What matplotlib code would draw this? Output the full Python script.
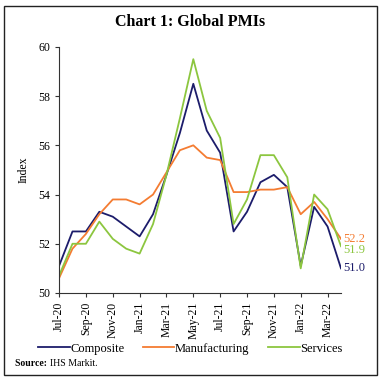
import matplotlib
matplotlib.use("Agg")
import matplotlib.pyplot as plt
from matplotlib.patches import Rectangle

plt.rcParams['font.family'] = ['Liberation Serif', 'DejaVu Serif']

months = ["Jul-20", "Aug-20", "Sep-20", "Oct-20", "Nov-20", "Dec-20",
          "Jan-21", "Feb-21", "Mar-21", "Apr-21", "May-21", "Jun-21",
          "Jul-21", "Aug-21", "Sep-21", "Oct-21", "Nov-21", "Dec-21",
          "Jan-22", "Feb-22", "Mar-22", "Apr-22"]
composite = [51.1, 52.5, 52.5, 53.3, 53.1, 52.7, 52.3, 53.2, 54.8, 56.5, 58.5, 56.6,
             55.7, 52.5, 53.3, 54.5, 54.8, 54.3, 51.1, 53.5, 52.7, 51.0]
manufacturing = [50.6, 51.8, 52.4, 53.2, 53.8, 53.8, 53.6, 54.0, 54.9, 55.8, 56.0, 55.5,
                 55.4, 54.1, 54.1, 54.2, 54.2, 54.3, 53.2, 53.7, 53.0, 52.2]
services = [50.7, 52.0, 52.0, 52.9, 52.2, 51.8, 51.6, 52.8, 54.8, 57.1, 59.5, 57.4,
            56.3, 52.8, 53.8, 55.6, 55.6, 54.7, 51.0, 54.0, 53.4, 51.9]

c_comp = "#1c1c6b"
c_manu = "#f47c32"
c_serv = "#8cc63f"

fig = plt.figure(figsize=(3.81, 3.81), dpi=100)
ax = fig.add_axes([0.155, 0.231, 0.740, 0.646])

x = list(range(len(months)))
ax.plot(x, composite, color=c_comp, lw=1.3, label="Composite")
ax.plot(x, manufacturing, color=c_manu, lw=1.3, label="Manufacturing")
ax.plot(x, services, color=c_serv, lw=1.3, label="Services")

# end labels
ax.text(x[-1] + 0.15, manufacturing[-1], f"{manufacturing[-1]:.1f}", color=c_manu,
        fontsize=9, va="center", ha="left", clip_on=False)
ax.text(x[-1] + 0.15, services[-1] - 0.15, f"{services[-1]:.1f}", color=c_serv,
        fontsize=9, va="center", ha="left", clip_on=False)
ax.text(x[-1] + 0.15, composite[-1], f"{composite[-1]:.1f}", color=c_comp,
        fontsize=9, va="center", ha="left", clip_on=False)

ax.set_xlim(0, len(months) - 1)
ax.set_ylim(50, 60)
ax.set_yticks(range(50, 61, 2))
ax.set_xticks(x[::2])
ax.set_xticklabels(months[::2], rotation=90, fontsize=8.5)
ax.tick_params(axis="y", labelsize=8.5, length=3, color="#333333")
ax.tick_params(axis="x", length=3, color="#333333")
ax.set_ylabel("Index", fontsize=8.5, labelpad=6)
for s in ["top", "right"]:
    ax.spines[s].set_visible(False)
for s in ["left", "bottom"]:
    ax.spines[s].set_color("#333333")
    ax.spines[s].set_linewidth(0.8)

fig.text(0.5, 0.942, "Chart 1: Global PMIs", ha="center", va="center",
         fontsize=11.5, fontweight="bold")

fig.legend(loc="center", bbox_to_anchor=(0.5, 0.085), ncol=3, frameon=False,
           fontsize=9, handlelength=2.5, handletextpad=0.05, columnspacing=1.5)

src = fig.text(0.04, 0.047, "Source: ", fontsize=7, fontweight="bold", va="center")
ax.annotate("IHS Markit.", xy=(1, 0.5), xycoords=src, fontsize=7, va="center")

fig.patches.append(Rectangle((0.011, 0.016), 0.978, 0.968, transform=fig.transFigure,
                             fill=False, edgecolor="#222222", lw=1.0))

fig.savefig("out.png", dpi=100)
